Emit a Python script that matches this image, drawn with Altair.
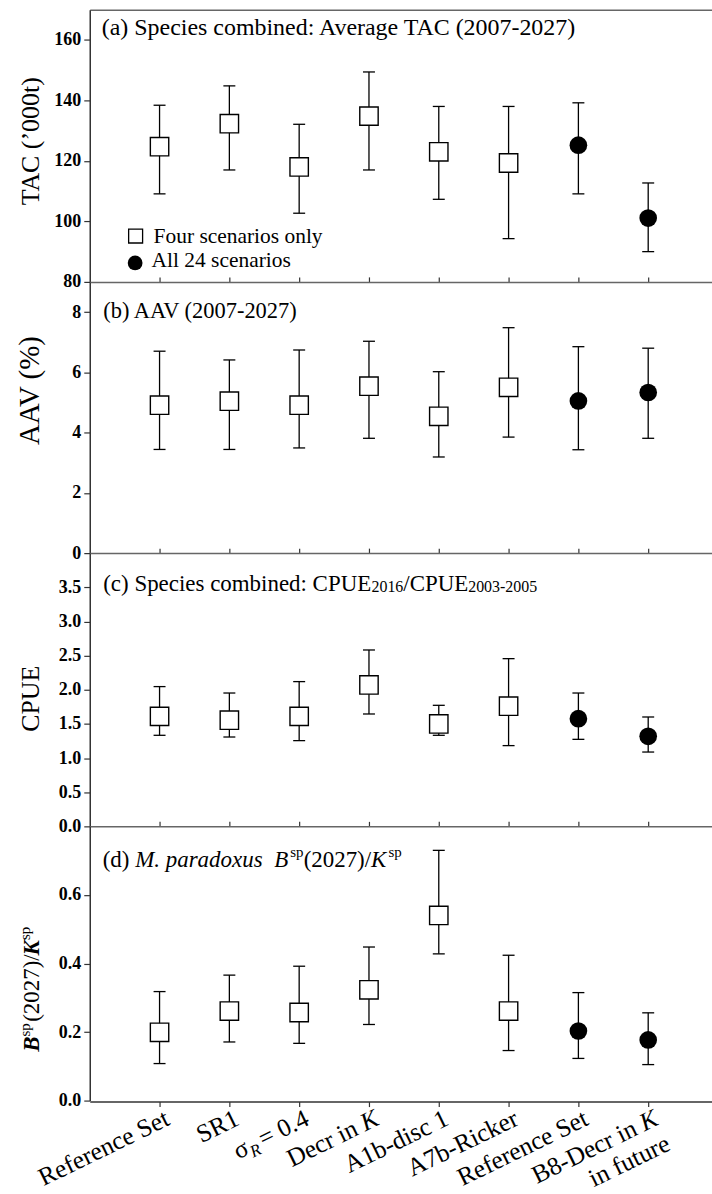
import altair as alt
import pandas as pd

# ---------------- data ----------------
positions = [1, 2, 3, 4, 5, 6, 7, 8]
groups = ["four", "four", "four", "four", "four", "four", "all", "all"]

tac_mid = [124.7, 132.3, 118.0, 134.8, 123.0, 119.3, 125.2, 101.1]
tac_low = [109.1, 117.0, 102.7, 117.0, 107.3, 94.3, 109.1, 90.0]
tac_up = [138.4, 144.8, 132.1, 149.4, 138.0, 138.0, 139.2, 112.7]

aav_mid = [4.91, 5.04, 4.91, 5.54, 4.54, 5.50, 5.05, 5.33]
aav_low = [3.44, 3.44, 3.49, 3.81, 3.19, 3.85, 3.43, 3.81]
aav_up = [6.70, 6.41, 6.74, 7.03, 6.02, 7.48, 6.85, 6.80]

cpue_mid = [1.61, 1.555, 1.61, 2.07, 1.50, 1.76, 1.577, 1.318]
cpue_low = [1.333, 1.308, 1.255, 1.645, 1.333, 1.182, 1.274, 1.088]
cpue_up = [2.046, 1.952, 2.119, 2.582, 1.772, 2.455, 1.952, 1.601]

bk_mid = [0.199, 0.261, 0.257, 0.323, 0.540, 0.261, 0.203, 0.177]
bk_low = [0.108, 0.171, 0.167, 0.222, 0.428, 0.146, 0.123, 0.105]
bk_up = [0.318, 0.366, 0.392, 0.448, 0.730, 0.424, 0.315, 0.256]

# x tick labels (split into styled pieces)
plain_label_pos = [1, 2, 5, 6, 7]
plain_labels = ["Reference Set", "SR1", "A1b-disc 1", "A7b-Ricker", "Reference Set"]
k_label_pos = [4, 8]
k_label_front = ["Decr in", "B8-Decr in"]
k_label_k = ["K", "K"]
second_line_pos = [8]
second_line = ["in future"]
sigma_pos = [3]

legend_labels = ["Four scenarios only", "All 24 scenarios"]

SERIF = "Liberation Serif"
XMAX = 8.914
W = 624
XS = alt.Scale(domain=[0, XMAX], nice=False, zero=False)


def txt(s, x, y, size, style="normal", weight="normal", angle=0, align="left",
        baseline="alphabetic", dx=0, dy=0):
    return alt.Chart(pd.DataFrame({"t": [s]})).mark_text(
        font=SERIF, fontSize=size, fontStyle=style, fontWeight=weight,
        angle=angle, align=align, baseline=baseline, dx=dx, dy=dy, color="black"
    ).encode(x=alt.value(x), y=alt.value(y), text="t:N")


def panel(mid, low, up, domain, ticks, fmt, height, top_ticks, extra):
    df = pd.DataFrame({"pos": positions, "grp": groups, "mid": mid, "low": low, "up": up})
    base = alt.Chart(df)
    ys = alt.Scale(domain=domain, nice=False, zero=False)
    top_axis = alt.Axis(orient="top", labels=False, ticks=top_ticks, tickSize=5,
                        tickColor="#333", tickWidth=1.2, domainColor="#666",
                        domainWidth=1.5, grid=False, title=None, values=positions)
    yaxis = alt.Axis(values=ticks, format=fmt, labelFont=SERIF, labelFontWeight="bold",
                     labelFontSize=18, labelColor="black", tickSize=6, tickColor="#333",
                     tickWidth=1.2, domainColor="#333", domainWidth=1.5, labelPadding=3,
                     grid=False, title=None, orient="left")
    X = alt.X("pos:Q", scale=XS, axis=top_axis)
    bars = base.mark_rule(color="black", strokeWidth=1.3).encode(
        x=X, y=alt.Y("low:Q", scale=ys, axis=yaxis), y2="up:Q")
    capu = base.mark_rule(color="black", strokeWidth=1.3, xOffset=-6, x2Offset=6).encode(
        x=X, x2="pos:Q", y=alt.Y("up:Q", scale=ys, axis=yaxis))
    capl = base.mark_rule(color="black", strokeWidth=1.3, xOffset=-6, x2Offset=6).encode(
        x=X, x2="pos:Q", y=alt.Y("low:Q", scale=ys, axis=yaxis))
    sq = base.transform_filter(alt.datum.grp == "four").mark_point(
        shape="square", filled=True, fill="white", stroke="black", strokeWidth=1.4,
        size=340, opacity=1).encode(x=X, y=alt.Y("mid:Q", scale=ys, axis=yaxis))
    ci = base.transform_filter(alt.datum.grp == "all").mark_point(
        shape="circle", filled=True, color="black", size=314, opacity=1).encode(
        x=X, y=alt.Y("mid:Q", scale=ys, axis=yaxis))
    layers = [bars, capu, capl, sq, ci] + extra
    return alt.layer(*layers).properties(width=W, height=height)


# panel (a)
extra_a = [
    txt("(a) Species combined: Average TAC (2007-2027)", 12, 25, 24),
    txt("TAC (\u2019000t)", -51, 132, 26, angle=270, align="center"),
    alt.Chart(pd.DataFrame({"t": [0]})).mark_point(
        shape="square", filled=True, fill="white", stroke="black", strokeWidth=1.3,
        size=196, opacity=1).encode(x=alt.value(46), y=alt.value(227)),
    alt.Chart(pd.DataFrame({"t": [0]})).mark_point(
        shape="circle", filled=True, color="black", size=219, opacity=1).encode(
        x=alt.value(45.5), y=alt.value(254)),
    txt(legend_labels[0], 64, 234, 21.5),
    txt(legend_labels[1], 62, 258, 21.5),
]
pa = panel(tac_mid, tac_low, tac_up, [80, 170], [80, 100, 120, 140, 160], "d", 273,
           False, extra_a)

# panel (b)
extra_b = [
    txt("(b) AAV (2007-2027)", 13.5, 36, 22.5),
    txt("AAV (%)", -51, 109, 29, angle=270, align="center"),
]
pb = panel(aav_mid, aav_low, aav_up, [0, 9], [0, 2, 4, 6, 8], "d", 272, True, extra_b)

# panel (c)
extra_c = [
    txt("(c) Species combined: CPUE", 13.5, 37.5, 23),
    txt("2016", 282.5, 37.5, 16, dy=1.5),
    txt("/CPUE", 314.5, 37.5, 23),
    txt("2003-2005", 379.5, 37.5, 16, dy=1.5),
    txt("CPUE", -51, 146, 26, angle=270, align="center"),
]
pc = panel(cpue_mid, cpue_low, cpue_up, [0, 4], [0, 0.5, 1, 1.5, 2, 2.5, 3, 3.5], ".1f",
           274, True, extra_c)

# panel (d)
extra_d = [
    txt("(d)", 13, 41, 23),
    txt("M. paradoxus", 45.6, 41, 23, style="italic"),
    txt("B", 185, 41, 23, style="italic"),
    txt("sp", 201, 41, 15, dy=-10),
    txt("(2027)/", 214.5, 41, 23),
    txt("K", 282, 41, 23, style="italic"),
    txt("sp", 299.5, 41, 15, dy=-10),
    # y title pieces
    txt("B", -51, 226, 23, style="italic", weight="bold", angle=270),
    txt("sp", -51, 226, 15, angle=270, dx=15.3, dy=-9),
    txt("(2027)/", -51, 226, 23, angle=270, dx=30),
    txt("K", -51, 226, 23, style="italic", weight="bold", angle=270, dx=96.5),
    txt("sp", -51, 226, 15, angle=270, dx=112, dy=-9),
]
pd_ = panel(bk_mid, bk_low, bk_up, [0, 0.8], [0, 0.2, 0.4, 0.6], ".1f", 275, True, extra_d)

# bottom strip: x axis (ticks outward) and rotated category labels
bot_axis = alt.Axis(orient="bottom", labels=False, ticks=True, tickSize=5,
                    tickColor="#333", tickWidth=1.2, domainColor="#333",
                    domainWidth=1.5, grid=False, title=None, values=positions)
LY = 7


def xlab(pos_list, labels, size=25.5, style="normal", dx=0, dy=20):
    return alt.Chart(pd.DataFrame({"pos": pos_list, "t": labels})).mark_text(
        font=SERIF, fontSize=size, fontStyle=style, angle=334, align="right",
        baseline="alphabetic", dx=dx, dy=dy, color="black"
    ).encode(x=alt.X("pos:Q", scale=XS, axis=bot_axis), y=alt.value(LY), text="t:N")


strip = alt.layer(
    xlab(plain_label_pos, plain_labels, dx=3),
    xlab(k_label_pos, k_label_front, dx=3 - 23),
    xlab(k_label_pos, k_label_k, style="italic", dx=3),
    xlab(second_line_pos, second_line, dx=3, dy=48),
    xlab(sigma_pos, ["= 0.4"], dx=3),
    xlab(sigma_pos, ["R"], size=17, style="italic", dx=3 - 56, dy=25),
    xlab(sigma_pos, ["\u03c3"], dx=3 - 67),
).properties(width=W, height=1)

chart = alt.VConcatChart(
    vconcat=[pa, pb, pc, pd_, strip], spacing=0, bounds="flush"
).properties(
    padding={"left": 16, "top": 8, "right": 0, "bottom": 0}, background="white"
).configure_view(stroke=None)

chart.save("out.html", embed_options={"renderer": "svg", "actions": False})
